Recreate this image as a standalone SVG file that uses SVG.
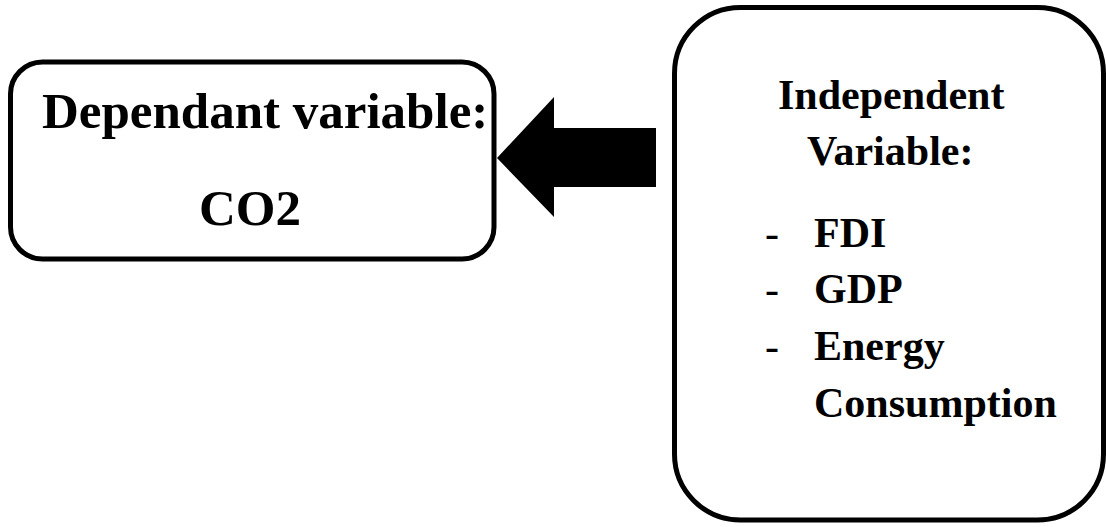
<svg xmlns="http://www.w3.org/2000/svg" width="1106" height="527" viewBox="0 0 1106 527">
<style>
.box{fill:#fff;stroke:#000;stroke-width:5}
.t{font-family:"Liberation Serif","Times New Roman",serif;font-weight:bold;fill:#000}
.d{font-family:"Liberation Serif","Times New Roman",serif;font-weight:normal;fill:#000;font-size:42px}
</style>
<rect width="1106" height="527" fill="#fff"/>
<g id="dependent">
<rect class="box" x="10.5" y="62" width="483.5" height="197" rx="32" ry="32"/>
<text class="t" x="42" y="128" font-size="51">Dependant variable:</text>
<text class="t" x="199" y="225" font-size="51">CO2</text>
</g>
<g id="independent">
<rect class="box" x="674.5" y="7.5" width="429" height="512.5" rx="66" ry="66"/>
<text class="t" x="778" y="109" font-size="42">Independent</text>
<text class="t" x="807" y="165" font-size="42">Variable:</text>
<text class="d" x="765" y="247">-</text>
<text class="t" x="814" y="247" font-size="42">FDI</text>
<text class="d" x="765" y="303">-</text>
<text class="t" x="814" y="303" font-size="42">GDP</text>
<text class="d" x="765" y="360">-</text>
<text class="t" x="814" y="360" font-size="42">Energy</text>
<text class="t" x="814" y="417" font-size="42">Consumption</text>
</g>
<g id="connectors">
<polygon points="497,158 554,97 554,128 656,128 656,187 554,187 554,217" fill="#000"/>
</g>
</svg>
